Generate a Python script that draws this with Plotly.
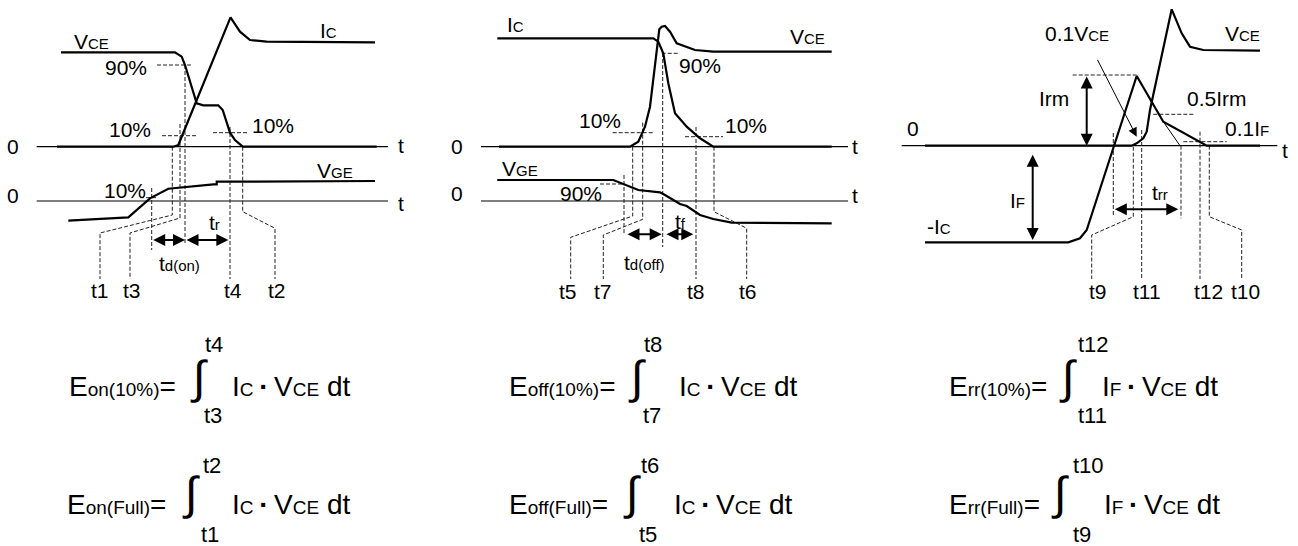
import plotly.graph_objects as go

# ---------------- data (pixel coordinates of the schematic, y downward) ----------------
# Turn-on panel
ON_VCE_X = [61, 175, 181.7, 185, 196.7, 203.3, 218.3, 222.7, 230, 235, 242.7, 376.7]
ON_VCE_Y = [52.3, 52.3, 56.7, 65, 103.3, 105.3, 105.3, 110, 132.7, 140, 146.7, 146.7]
ON_IC_X = [57, 173.3, 178.3, 230.5, 240, 250, 266.7, 375]
ON_IC_Y = [146.7, 146.7, 145, 17.3, 31.7, 40, 41.7, 42.3]
ON_VGE_X = [68.3, 128.3, 150, 168.3, 213.3, 216.7, 216.7, 375]
ON_VGE_Y = [220.7, 217.3, 198.3, 188.7, 184.3, 184.3, 181.7, 181]
ON_AXIS_X = [36.7, 388, None, 36.7, 388]
ON_AXIS_Y = [146.7, 146.7, None, 201, 201]
ON_DASH_X = [157, 191, None, 162, 197, None, 213, 248, None, 140, 158, None,
             151.7, 151.7, None, 185, 185, None,
             172.3, 172.3, 100, 100, None, 180, 180, 130, 130, None,
             230, 230, None, 242.7, 242.7, 275, 275]
ON_DASH_Y = [65, 65, None, 135.7, 135.7, None, 132.7, 132.7, None, 197.7, 197.7, None,
             188, 250, None, 65, 245, None,
             146.7, 215, 233, 279, None, 124, 218, 233, 279, None,
             127, 279, None, 146.7, 211.7, 228.3, 279]

# Turn-off panel
OFF_IC_X = [497.3, 653.3, 658.3, 663.3, 668.3, 675, 686.7, 700, 713.3, 831.7]
OFF_IC_Y = [38.3, 38.3, 41.7, 53.3, 83.3, 113.3, 126.7, 138.3, 146.7, 146.7]
OFF_VCE_X = [499, 630, 638.3, 645, 650, 655, 659.3, 661.7, 665, 670, 676.7, 695, 713.3, 831.7]
OFF_VCE_Y = [146.7, 146.7, 141.7, 126.7, 106.7, 66.7, 29.3, 26.7, 26, 31.7, 43.3, 50, 51.7, 51.7]
OFF_VGE_X = [497.3, 613.3, 638.3, 660, 665, 680, 686.7, 700, 713.3, 731.7, 831.7]
OFF_VGE_Y = [180, 180, 190, 192.3, 195, 204, 206, 215, 219, 222.7, 223.3]
OFF_AXIS_X = [481, 848, None, 481, 848]
OFF_AXIS_Y = [146.7, 146.7, None, 201, 201]
OFF_DASH_X = [661.7, 678.3, None, 612.7, 653.3, None, 685, 723, None, 600, 623, None,
              624, 624, None, 662.7, 662.7, None, 696, 696, None,
              632.7, 632.7, 570.7, 570.7, None, 642.7, 642.7, 603.3, 603.3, None,
              714, 714, 746.7, 746.7]
OFF_DASH_Y = [53.3, 53.3, None, 132.7, 132.7, None, 136.7, 136.7, None, 184, 184, None,
              175, 233, None, 53, 247, None, 127, 279, None,
              146.7, 216, 237.3, 279, None, 122.7, 219.3, 235, 279, None,
              146.7, 211.7, 228.3, 279]

# Reverse recovery panel
RR_I_X = [925, 1068.3, 1080, 1086.7, 1136.7, 1163.3, 1206.7, 1260]
RR_I_Y = [242.3, 242.3, 238.3, 230, 76, 121.7, 145.7, 145.7]
RR_VCE_X = [925, 1131.7, 1136.7, 1143.3, 1146.7, 1150, 1171.7, 1181.7, 1190, 1203.3, 1260]
RR_VCE_Y = [145.7, 145.7, 143.3, 138.3, 131.7, 110, 9.3, 33.3, 46.7, 50, 50.7]
RR_TANGENT_X = [1163.3, 1180]
RR_TANGENT_Y = [121.7, 145.7]
RR_AXIS_X = [901.7, 1277.3]
RR_AXIS_Y = [145.7, 145.7]
RR_DASH_X = [1072.7, 1136.7, None, 1153.3, 1195, None, 1183.3, 1226.7, None,
             1113.3, 1113.3, None, 1133.3, 1133.3, 1091.7, 1091.7, None,
             1141.7, 1141.7, None, 1181, 1181, None, 1200, 1200, None,
             1209.3, 1209.3, 1241.7, 1241.7]
RR_DASH_Y = [75, 75, None, 114.3, 114.3, None, 141.7, 141.7, None,
             133, 217, None, 146.7, 216.7, 235, 279, None,
             130, 279, None, 145.7, 218.3, None, 131.7, 279, None,
             145.7, 216.7, 230, 279]

# double-headed arrows: (x0, y0, x1, y1)
DOUBLE_ARROWS = [
    (151.7, 240, 185, 240), (185, 240, 228.3, 240),
    (626, 234.3, 661.7, 234.3), (665, 234.3, 693.3, 234.3),
    (1086.7, 75, 1086.7, 145.7), (1032.7, 153.3, 1032.7, 240),
    (1113.3, 209.3, 1178.3, 209.3),
]
# single pointer arrow (tail x, tail y, head x, head y)
POINTER_ARROW = (1096.7, 58.3, 1136.7, 136.7)


def sub(main, small, size=15):
    return f"{main}<span style='font-size:{size}px'>{small}</span>"


# panel labels: (text, x, y, xanchor)
PANEL_LABELS = [
    (sub("V", "CE"), 71.7, 41.7, "left"), (sub("I", "C"), 318.3, 30.8, "left"),
    ("90%", 103.3, 67, "left"), ("10%", 106.7, 129, "left"), ("10%", 250, 125.5, "left"),
    (sub("V", "GE"), 315, 170, "left"), ("10%", 101.7, 190, "left"),
    ("0", 13.3, 146.7, "center"), ("0", 13.3, 195, "center"),
    ("t", 400.5, 145, "center"), ("t", 400.5, 203, "center"),
    (sub("t", "d(on)"), 156.7, 263, "left"), (sub("t", "r"), 206.7, 222, "left"),
    ("t1", 100, 290, "center"), ("t3", 131.7, 290, "center"),
    ("t4", 233.3, 290, "center"), ("t2", 276.7, 290, "center"),
    (sub("I", "C"), 505, 24, "left"), (sub("V", "CE"), 788.3, 36, "left"),
    ("90%", 676.7, 65, "left"), ("10%", 576.7, 120, "left"), ("10%", 723.3, 125.5, "left"),
    (sub("V", "GE"), 500, 168, "left"), ("90%", 558.3, 193.3, "left"),
    ("0", 456.7, 146.7, "center"), ("0", 456.7, 193.3, "center"),
    ("t", 855, 146.7, "center"), ("t", 855, 195, "center"),
    (sub("t", "d(off)"), 621.7, 262, "left"), (sub("t", "f"), 673.3, 221, "left"),
    ("t5", 568.3, 291, "center"), ("t7", 603.3, 291, "center"),
    ("t8", 696, 291, "center"), ("t6", 748.3, 291, "center"),
    (sub("0.1V", "CE"), 1043.3, 33.3, "left"), (sub("V", "CE"), 1223.3, 33.3, "left"),
    ("Irm", 1036.7, 98.3, "left"), ("0.5Irm", 1185, 98.3, "left"),
    (sub("0.1I", "F"), 1223.3, 128.3, "left"), ("0", 913.3, 128.3, "center"),
    ("t", 1285, 150, "center"), (sub("I", "F"), 1008.3, 200, "left"),
    (sub("-I", "C"), 925, 226.7, "left"), (sub("t", "rr"), 1150, 192.5, "left"),
    ("t9", 1098.3, 291, "center"), ("t11", 1146.7, 291, "center"),
    ("t12", 1208.3, 291, "center"), ("t10", 1245, 291, "center"),
]

THIN = "\u2009"
BODY_C = sub("I", "C", 19) + THIN + "<b>·</b>" + THIN + sub("V", "CE", 19) + " dt"
BODY_F = sub("I", "F", 19) + THIN + "<b>·</b>" + THIN + sub("V", "CE", 19) + " dt"

# formulas: (lhs, lhs_x, row_y, integral_x, integral_y, upper, upper_x, upper_y, lower, lower_x, lower_y, body, body_x)
FORMULAS = [
    (sub("E", "on(10%)", 19) + "=", 66.7, 386, 199, 377, "t4", 214, 344, "t3", 213, 415.5, BODY_C, 230),
    (sub("E", "on(Full)", 19) + "=", 65, 504, 191, 493, "t2", 212, 465.5, "t1", 210, 534, BODY_C, 230),
    (sub("E", "off(10%)", 19) + "=", 507, 386, 637, 377, "t8", 653, 344, "t7", 652, 415.5, BODY_C, 677),
    (sub("E", "off(Full)", 19) + "=", 507, 504, 632, 493, "t6", 650, 465.5, "t5", 648, 534, BODY_C, 672),
    (sub("E", "rr(10%)", 19) + "=", 947, 386, 1068, 377, "t12", 1093, 344, "t11", 1092, 415.5, BODY_F, 1100),
    (sub("E", "rr(Full)", 19) + "=", 947, 504, 1060, 493, "t10", 1088, 465.5, "t9", 1082, 534, BODY_F, 1102),
]

FONT = "Liberation Sans, Arial, sans-serif"

fig = go.Figure()


def add_line(xs, ys, width, dash=None, color="black"):
    fig.add_trace(go.Scatter(x=xs, y=ys, mode="lines", hoverinfo="skip", showlegend=False,
                             line=dict(color=color, width=width, dash=dash)))


# axes lines
add_line(ON_AXIS_X, ON_AXIS_Y, 1.2)
add_line(OFF_AXIS_X, OFF_AXIS_Y, 1.2)
add_line(RR_AXIS_X, RR_AXIS_Y, 1.2)
# dashed guides
for dx, dy in [(ON_DASH_X, ON_DASH_Y), (OFF_DASH_X, OFF_DASH_Y), (RR_DASH_X, RR_DASH_Y)]:
    add_line(dx, dy, 1, dash="4px,2px", color="#222222")
# waveforms
for wx, wy in [(ON_VCE_X, ON_VCE_Y), (ON_IC_X, ON_IC_Y), (ON_VGE_X, ON_VGE_Y),
               (OFF_IC_X, OFF_IC_Y), (OFF_VCE_X, OFF_VCE_Y), (OFF_VGE_X, OFF_VGE_Y),
               (RR_I_X, RR_I_Y), (RR_VCE_X, RR_VCE_Y)]:
    add_line(wx, wy, 2.2)
add_line(RR_TANGENT_X, RR_TANGENT_Y, 1)

annotations = []
for x0, y0, x1, y1 in DOUBLE_ARROWS:
    annotations.append(dict(x=x1, y=y1, ax=x0, ay=y0, xref="x", yref="y", axref="x", ayref="y",
                            text="", showarrow=True, arrowhead=2, startarrowhead=2,
                            arrowside="end+start", arrowsize=1.2, startarrowsize=1.2,
                            arrowwidth=2, arrowcolor="black", standoff=0, startstandoff=0))
tx, ty, hx, hy = POINTER_ARROW
annotations.append(dict(x=hx, y=hy, ax=tx, ay=ty, xref="x", yref="y", axref="x", ayref="y",
                        text="", showarrow=True, arrowhead=2, arrowsize=1.8, arrowwidth=1,
                        arrowcolor="black", standoff=0))

for text, x, y, xa in PANEL_LABELS:
    annotations.append(dict(x=x, y=y, xref="x", yref="y", text=text, showarrow=False,
                            xanchor=xa, yanchor="middle", font=dict(family=FONT, size=21, color="black")))

for (lhs, lx, ry, ix, iy, up, ux, uy, lo, lox, loy, body, bx) in FORMULAS:
    annotations.append(dict(x=lx, y=ry, xref="x", yref="y", text=lhs, showarrow=False,
                            xanchor="left", yanchor="middle", font=dict(family=FONT, size=28, color="black")))
    annotations.append(dict(x=ix, y=iy, xref="x", yref="y", text="∫", showarrow=False,
                            xanchor="center", yanchor="middle", font=dict(family=FONT, size=46, color="black")))
    annotations.append(dict(x=ux, y=uy, xref="x", yref="y", text=up, showarrow=False,
                            xanchor="center", yanchor="middle", font=dict(family=FONT, size=22, color="black")))
    annotations.append(dict(x=lox, y=loy, xref="x", yref="y", text=lo, showarrow=False,
                            xanchor="center", yanchor="middle", font=dict(family=FONT, size=22, color="black")))
    annotations.append(dict(x=bx, y=ry, xref="x", yref="y", text=body, showarrow=False,
                            xanchor="left", yanchor="middle", font=dict(family=FONT, size=28, color="black")))

fig.update_layout(
    width=1298, height=546, margin=dict(l=0, r=0, t=0, b=0),
    paper_bgcolor="white", plot_bgcolor="white",
    xaxis=dict(range=[0, 1298], visible=False, fixedrange=True),
    yaxis=dict(range=[546, 0], visible=False, fixedrange=True),
    annotations=annotations, showlegend=False,
)
fig.write_html("out.html", config={"displayModeBar": False},
               post_script="document.body.style.margin='0px';")
